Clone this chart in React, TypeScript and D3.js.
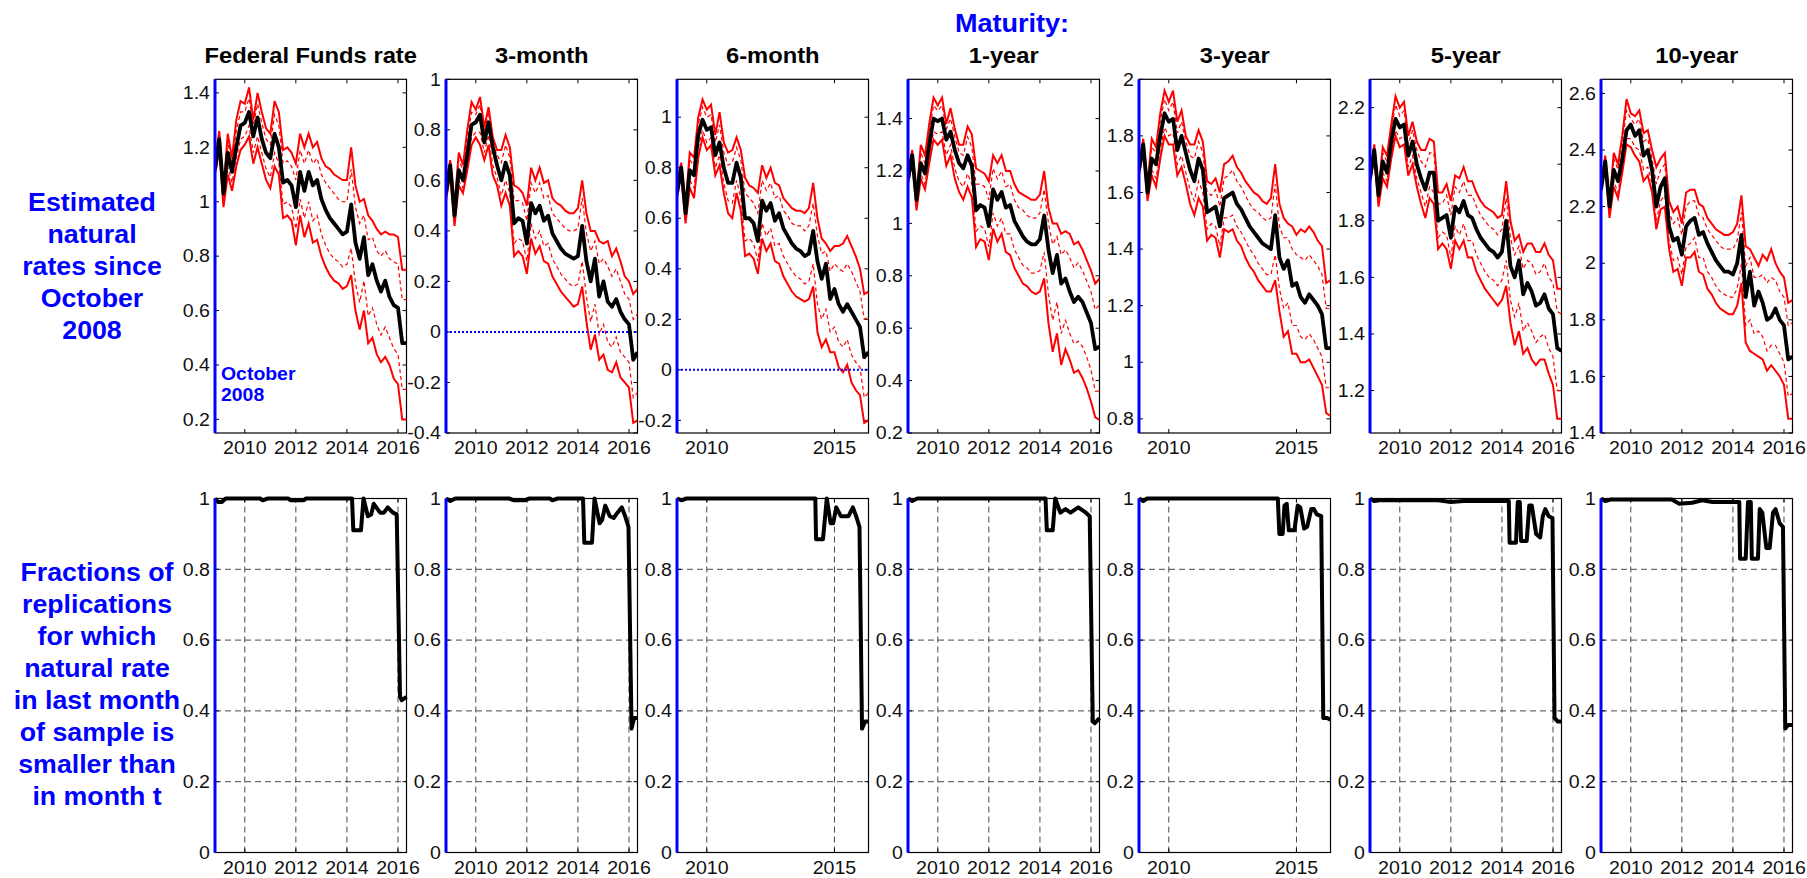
import React from "react";
import * as d3 from "d3";

const W = 1807, H = 878;
const font = "'Liberation Sans', Arial, Helvetica, sans-serif";
const blue = "#0000ff";

// monthly grid, every second month from Oct 2008 to Apr 2016
const months = d3.range(46).map(i => 2008 + 10 / 12 + i / 6);
const xDomain = [2008 + 10 / 12, 2016 + 4 / 12];

const titles = ["Federal Funds rate", "3-month", "6-month", "1-year", "3-year", "5-year", "10-year"];
const yDomains = [[0.15, 1.45], [-0.4, 1], [-0.25, 1.15], [0.2, 1.55], [0.75, 2], [1.05, 2.3], [1.4, 2.65]];
const yTicksTop = [
  [0.2, 0.4, 0.6, 0.8, 1, 1.2, 1.4],
  [-0.4, -0.2, 0, 0.2, 0.4, 0.6, 0.8, 1],
  [-0.2, 0, 0.2, 0.4, 0.6, 0.8, 1],
  [0.2, 0.4, 0.6, 0.8, 1, 1.2, 1.4],
  [0.8, 1, 1.2, 1.4, 1.6, 1.8, 2],
  [1.2, 1.4, 1.6, 1.8, 2, 2.2],
  [1.4, 1.6, 1.8, 2, 2.2, 2.4, 2.6],
];
const yTicksBottom = [0, 0.2, 0.4, 0.6, 0.8, 1];
const xTicksWide = [2010, 2012, 2014, 2016];
const xTicksFive = [2010, 2015];
const xTicks = [xTicksWide, xTicksWide, xTicksFive, xTicksWide, xTicksFive, xTicksWide, xTicksWide];
const zeroLine = [false, true, true, false, false, false, false];

// Federal funds rate
const ffMedian = [1.12,1.23,1.03,1.18,1.11,1.20,1.28,1.29,1.33,1.24,1.31,1.23,1.18,1.16,1.25,1.20,1.07,1.08,1.06,0.98,1.11,1.04,1.11,1.06,1.08,1.01,0.97,0.94,0.92,0.90,0.88,0.89,0.99,0.85,0.79,0.87,0.73,0.77,0.71,0.67,0.71,0.65,0.62,0.61,0.48,0.48];
const ffUpper = [1.15,1.26,1.05,1.25,1.16,1.30,1.37,1.36,1.42,1.30,1.40,1.33,1.27,1.25,1.37,1.33,1.19,1.20,1.18,1.14,1.25,1.20,1.25,1.20,1.22,1.16,1.13,1.12,1.10,1.09,1.08,1.08,1.20,1.06,1.00,1.01,0.95,0.93,0.90,0.88,0.89,0.88,0.88,0.87,0.75,0.75];
const ffLower = [1.10,1.19,0.98,1.10,1.04,1.13,1.19,1.21,1.24,1.14,1.20,1.14,1.08,1.05,1.13,1.10,0.94,0.95,0.93,0.84,0.95,0.87,0.92,0.85,0.86,0.80,0.76,0.73,0.71,0.70,0.68,0.69,0.73,0.60,0.53,0.60,0.48,0.50,0.44,0.41,0.43,0.40,0.35,0.33,0.20,0.20];
const ffUpperIn = [1.14,1.25,1.04,1.22,1.14,1.26,1.33,1.33,1.38,1.28,1.36,1.29,1.23,1.21,1.32,1.28,1.14,1.15,1.13,1.08,1.19,1.14,1.19,1.14,1.16,1.10,1.07,1.05,1.03,1.01,1.00,1.00,1.12,0.98,0.92,0.95,0.86,0.87,0.82,0.80,0.82,0.79,0.78,0.77,0.64,0.64];
const ffLowerIn = [1.11,1.21,1.00,1.13,1.07,1.16,1.23,1.24,1.28,1.18,1.24,1.18,1.12,1.09,1.18,1.14,0.99,1.00,0.98,0.90,1.01,0.94,1.00,0.93,0.95,0.88,0.84,0.81,0.79,0.78,0.76,0.77,0.83,0.70,0.63,0.71,0.58,0.61,0.55,0.51,0.54,0.50,0.46,0.44,0.31,0.31];

// 3-month
const m3Median = [0.55,0.66,0.46,0.64,0.60,0.70,0.82,0.83,0.86,0.75,0.83,0.73,0.66,0.60,0.67,0.62,0.43,0.45,0.44,0.35,0.51,0.47,0.50,0.44,0.46,0.39,0.36,0.33,0.31,0.30,0.29,0.30,0.42,0.28,0.20,0.29,0.14,0.20,0.12,0.10,0.13,0.08,0.05,0.03,-0.11,-0.08];
const m3Upper = [0.60,0.68,0.50,0.71,0.66,0.80,0.91,0.88,0.93,0.81,0.89,0.77,0.72,0.72,0.78,0.73,0.58,0.57,0.55,0.50,0.65,0.60,0.65,0.59,0.60,0.53,0.51,0.50,0.48,0.47,0.47,0.49,0.60,0.47,0.40,0.40,0.36,0.35,0.36,0.30,0.33,0.28,0.22,0.20,0.15,0.17];
const m3Lower = [0.52,0.63,0.42,0.58,0.55,0.64,0.74,0.77,0.74,0.68,0.74,0.62,0.58,0.50,0.55,0.50,0.30,0.32,0.30,0.23,0.37,0.31,0.34,0.28,0.27,0.22,0.19,0.16,0.14,0.12,0.10,0.11,0.18,0.04,-0.07,-0.01,-0.11,-0.09,-0.15,-0.16,-0.12,-0.18,-0.20,-0.22,-0.36,-0.35];
const m3UpperIn = [0.58,0.67,0.48,0.68,0.64,0.76,0.87,0.86,0.90,0.79,0.87,0.75,0.70,0.67,0.74,0.69,0.52,0.52,0.51,0.44,0.59,0.55,0.59,0.53,0.54,0.47,0.45,0.43,0.41,0.40,0.40,0.41,0.53,0.39,0.32,0.36,0.27,0.29,0.26,0.22,0.25,0.20,0.15,0.13,0.05,0.07];
const m3LowerIn = [0.53,0.64,0.44,0.60,0.57,0.66,0.77,0.79,0.79,0.71,0.78,0.66,0.61,0.54,0.60,0.55,0.35,0.37,0.36,0.28,0.43,0.37,0.40,0.34,0.35,0.29,0.26,0.23,0.21,0.19,0.18,0.19,0.28,0.14,0.04,0.11,-0.01,0.03,-0.04,-0.06,-0.02,-0.08,-0.10,-0.12,-0.26,-0.24];

// 6-month
const m6Median = [0.70,0.80,0.62,0.79,0.77,0.93,0.99,0.95,0.96,0.85,0.90,0.80,0.74,0.74,0.82,0.76,0.60,0.60,0.58,0.51,0.67,0.63,0.66,0.59,0.62,0.56,0.53,0.50,0.48,0.47,0.45,0.46,0.55,0.43,0.36,0.42,0.28,0.32,0.26,0.23,0.26,0.23,0.20,0.17,0.05,0.07];
const m6Upper = [0.75,0.82,0.65,0.86,0.84,1.00,1.07,1.03,1.05,0.93,1.02,0.90,0.86,0.87,0.92,0.87,0.76,0.73,0.72,0.70,0.81,0.76,0.80,0.74,0.73,0.68,0.66,0.64,0.63,0.63,0.62,0.64,0.74,0.60,0.52,0.50,0.47,0.49,0.49,0.50,0.53,0.49,0.45,0.40,0.30,0.31];
const m6Lower = [0.68,0.78,0.58,0.72,0.68,0.84,0.92,0.87,0.89,0.77,0.81,0.70,0.62,0.60,0.70,0.63,0.45,0.46,0.44,0.38,0.52,0.47,0.50,0.43,0.42,0.37,0.34,0.31,0.29,0.28,0.27,0.28,0.33,0.15,0.09,0.12,0.07,0.07,0.01,-0.01,0.02,-0.05,-0.08,-0.10,-0.21,-0.20];
const m6UpperIn = [0.73,0.81,0.64,0.83,0.81,0.97,1.04,1.00,1.01,0.90,0.97,0.86,0.81,0.82,0.88,0.83,0.70,0.68,0.66,0.62,0.75,0.71,0.74,0.68,0.69,0.63,0.61,0.58,0.57,0.57,0.55,0.57,0.66,0.53,0.46,0.47,0.39,0.42,0.40,0.39,0.42,0.39,0.35,0.31,0.20,0.21];
const m6LowerIn = [0.69,0.79,0.60,0.75,0.72,0.88,0.95,0.90,0.92,0.80,0.85,0.74,0.67,0.66,0.75,0.68,0.51,0.52,0.50,0.43,0.58,0.53,0.56,0.49,0.50,0.45,0.42,0.39,0.37,0.36,0.34,0.35,0.42,0.26,0.20,0.24,0.15,0.17,0.11,0.09,0.12,0.06,0.03,0.01,-0.11,-0.09];

// 1-year
const y1Median = [1.17,1.26,1.09,1.23,1.19,1.30,1.40,1.39,1.40,1.32,1.35,1.28,1.23,1.21,1.26,1.22,1.05,1.07,1.06,0.99,1.13,1.09,1.12,1.06,1.07,1.01,0.98,0.95,0.93,0.92,0.92,0.94,1.03,0.90,0.81,0.88,0.77,0.79,0.74,0.70,0.72,0.70,0.66,0.62,0.52,0.53];
const y1Upper = [1.20,1.28,1.10,1.30,1.26,1.38,1.48,1.45,1.48,1.38,1.44,1.36,1.30,1.30,1.37,1.34,1.21,1.20,1.19,1.16,1.26,1.23,1.26,1.20,1.20,1.15,1.12,1.11,1.10,1.09,1.09,1.11,1.20,1.06,1.00,1.00,0.96,0.97,0.96,0.92,0.93,0.90,0.86,0.82,0.77,0.79];
const y1Lower = [1.15,1.24,1.05,1.17,1.13,1.23,1.32,1.30,1.32,1.22,1.26,1.17,1.12,1.09,1.14,1.10,0.91,0.94,0.93,0.86,0.98,0.93,0.96,0.89,0.88,0.83,0.80,0.77,0.76,0.74,0.73,0.74,0.79,0.62,0.51,0.58,0.46,0.52,0.48,0.43,0.44,0.41,0.37,0.32,0.26,0.25];
const y1UpperIn = [1.19,1.27,1.10,1.27,1.23,1.35,1.45,1.43,1.45,1.36,1.40,1.33,1.27,1.26,1.33,1.29,1.15,1.15,1.14,1.09,1.21,1.17,1.20,1.14,1.15,1.09,1.06,1.05,1.03,1.02,1.02,1.04,1.13,1.00,0.92,0.95,0.88,0.90,0.87,0.83,0.85,0.82,0.78,0.74,0.67,0.69];
const y1LowerIn = [1.16,1.25,1.07,1.19,1.15,1.26,1.35,1.34,1.35,1.26,1.30,1.21,1.16,1.14,1.19,1.15,0.97,0.99,0.98,0.91,1.04,0.99,1.02,0.96,0.96,0.90,0.87,0.84,0.83,0.81,0.81,0.82,0.89,0.73,0.63,0.70,0.58,0.63,0.58,0.54,0.55,0.53,0.49,0.44,0.36,0.36];

// 3-year
const y3Median = [1.68,1.77,1.60,1.72,1.70,1.80,1.88,1.85,1.86,1.75,1.80,1.74,1.68,1.64,1.72,1.68,1.53,1.54,1.55,1.48,1.58,1.59,1.60,1.56,1.54,1.51,1.48,1.46,1.44,1.42,1.41,1.40,1.52,1.37,1.33,1.36,1.27,1.28,1.23,1.21,1.24,1.22,1.20,1.17,1.05,1.05];
const y3Upper = [1.70,1.79,1.63,1.79,1.76,1.88,1.96,1.92,1.96,1.85,1.89,1.80,1.77,1.77,1.82,1.78,1.64,1.63,1.65,1.60,1.70,1.71,1.73,1.69,1.67,1.64,1.62,1.60,1.59,1.57,1.56,1.58,1.70,1.56,1.51,1.49,1.48,1.45,1.47,1.46,1.48,1.46,1.43,1.41,1.28,1.29];
const y3Lower = [1.66,1.75,1.57,1.66,1.62,1.72,1.80,1.77,1.77,1.66,1.69,1.63,1.56,1.52,1.58,1.55,1.43,1.45,1.44,1.37,1.47,1.46,1.47,1.43,1.41,1.37,1.34,1.32,1.29,1.27,1.25,1.25,1.29,1.18,1.09,1.11,1.03,1.03,1.00,1.00,1.01,0.98,0.95,0.92,0.82,0.81];
const y3UpperIn = [1.69,1.78,1.62,1.76,1.74,1.85,1.93,1.89,1.92,1.81,1.85,1.78,1.73,1.72,1.78,1.74,1.60,1.59,1.61,1.55,1.65,1.66,1.68,1.64,1.62,1.59,1.56,1.54,1.53,1.51,1.50,1.51,1.63,1.48,1.44,1.44,1.40,1.38,1.37,1.36,1.38,1.36,1.34,1.31,1.19,1.19];
const y3LowerIn = [1.67,1.76,1.58,1.68,1.65,1.75,1.83,1.80,1.81,1.70,1.73,1.67,1.61,1.57,1.64,1.60,1.47,1.49,1.48,1.41,1.51,1.51,1.52,1.48,1.46,1.43,1.40,1.38,1.35,1.33,1.31,1.31,1.38,1.26,1.19,1.21,1.13,1.13,1.09,1.08,1.10,1.08,1.05,1.02,0.91,0.91];

// 5-year
const y5Median = [1.95,2.05,1.89,2.01,1.97,2.08,2.16,2.13,2.14,2.03,2.08,2.00,1.95,1.91,1.97,1.97,1.80,1.81,1.82,1.74,1.85,1.83,1.87,1.82,1.81,1.77,1.74,1.72,1.70,1.69,1.67,1.69,1.80,1.64,1.60,1.66,1.54,1.58,1.55,1.50,1.51,1.54,1.49,1.47,1.35,1.34];
const y5Upper = [1.97,2.07,1.91,2.06,2.03,2.14,2.24,2.20,2.22,2.10,2.15,2.08,2.05,2.05,2.09,2.08,1.90,1.90,1.93,1.87,1.96,1.95,1.99,1.94,1.94,1.90,1.87,1.85,1.84,1.83,1.81,1.82,1.94,1.80,1.73,1.75,1.69,1.72,1.72,1.69,1.69,1.72,1.68,1.66,1.56,1.56];
const y5Lower = [1.93,2.03,1.85,1.95,1.92,2.02,2.10,2.06,2.07,1.96,2.00,1.92,1.86,1.81,1.88,1.86,1.70,1.72,1.70,1.63,1.73,1.70,1.73,1.67,1.67,1.62,1.59,1.56,1.54,1.52,1.50,1.52,1.57,1.44,1.36,1.41,1.33,1.35,1.31,1.29,1.31,1.31,1.26,1.22,1.10,1.10];
const y5UpperIn = [1.96,2.06,1.90,2.04,2.01,2.12,2.21,2.17,2.19,2.07,2.12,2.05,2.01,1.99,2.04,2.04,1.86,1.86,1.89,1.82,1.92,1.90,1.94,1.89,1.89,1.85,1.82,1.80,1.78,1.77,1.75,1.77,1.88,1.74,1.68,1.71,1.63,1.66,1.65,1.61,1.62,1.65,1.60,1.58,1.48,1.47];
const y5LowerIn = [1.94,2.04,1.87,1.97,1.94,2.04,2.12,2.09,2.10,1.99,2.03,1.95,1.90,1.85,1.92,1.90,1.74,1.76,1.75,1.67,1.78,1.75,1.79,1.73,1.73,1.68,1.65,1.62,1.60,1.59,1.57,1.59,1.66,1.52,1.46,1.51,1.41,1.44,1.41,1.37,1.39,1.40,1.35,1.32,1.20,1.20];

// 10-year
const y10Median = [2.26,2.36,2.20,2.33,2.29,2.37,2.47,2.49,2.45,2.47,2.38,2.40,2.33,2.20,2.27,2.30,2.13,2.08,2.09,2.03,2.13,2.15,2.16,2.10,2.11,2.07,2.04,2.01,1.99,1.97,1.97,1.96,2.00,2.10,1.88,1.97,1.85,1.90,1.86,1.80,1.81,1.84,1.80,1.78,1.66,1.67];
const y10Upper = [2.28,2.38,2.21,2.39,2.35,2.45,2.58,2.53,2.52,2.54,2.46,2.47,2.40,2.34,2.37,2.39,2.22,2.18,2.20,2.14,2.25,2.26,2.26,2.21,2.20,2.16,2.14,2.12,2.11,2.10,2.10,2.11,2.14,2.24,2.06,2.05,2.02,1.99,2.03,2.01,2.05,2.00,1.97,1.95,1.86,1.87];
const y10Lower = [2.25,2.35,2.16,2.27,2.23,2.32,2.42,2.41,2.38,2.36,2.29,2.31,2.25,2.12,2.19,2.20,2.05,1.97,1.98,1.92,2.02,2.02,2.04,1.97,1.96,1.91,1.89,1.86,1.84,1.83,1.82,1.82,1.85,1.93,1.72,1.69,1.68,1.67,1.66,1.62,1.64,1.62,1.60,1.57,1.45,1.45];
const y10UpperIn = [2.27,2.37,2.21,2.37,2.33,2.42,2.54,2.51,2.49,2.51,2.43,2.44,2.37,2.28,2.33,2.35,2.18,2.14,2.16,2.10,2.20,2.22,2.22,2.17,2.16,2.12,2.10,2.08,2.06,2.05,2.05,2.05,2.08,2.18,1.99,2.02,1.95,1.95,1.96,1.93,1.95,1.94,1.90,1.88,1.78,1.79];
const y10LowerIn = [2.25,2.35,2.18,2.29,2.25,2.34,2.44,2.44,2.41,2.40,2.33,2.34,2.28,2.15,2.22,2.24,2.08,2.01,2.02,1.96,2.06,2.07,2.09,2.02,2.02,1.97,1.95,1.92,1.90,1.89,1.88,1.88,1.91,2.00,1.78,1.80,1.75,1.76,1.74,1.69,1.71,1.71,1.68,1.65,1.53,1.54];

// fraction of replications, [date, fraction]
const ffFrac = [[2008.833,1],[2008.95,0.99],[2009.1,0.99],[2009.25,1],[2010.6,1],[2010.7,0.995],[2010.9,1],[2011.7,1],[2011.8,0.995],[2012.3,0.995],[2012.4,1],[2014.2,1],[2014.25,0.91],[2014.55,0.91],[2014.65,1],[2014.82,0.95],[2014.95,0.955],[2015.05,0.985],[2015.3,0.96],[2015.45,0.96],[2015.6,0.975],[2015.8,0.96],[2015.95,0.955],[2016.08,0.44],[2016.15,0.43],[2016.333,0.44]];
const m3Frac = [[2008.833,1],[2009.0,0.993],[2009.2,1],[2011.3,1],[2011.5,0.995],[2011.9,0.995],[2012.1,1],[2012.9,1],[2013.0,0.995],[2013.2,1],[2014.2,1],[2014.25,0.875],[2014.55,0.875],[2014.65,1],[2014.85,0.93],[2014.95,0.94],[2015.07,0.98],[2015.25,0.95],[2015.4,0.945],[2015.55,0.96],[2015.72,0.975],[2015.85,0.95],[2015.98,0.92],[2016.1,0.35],[2016.2,0.38],[2016.333,0.38]];
const m6Frac = [[2008.833,1],[2009.0,0.995],[2009.2,1],[2014.25,1],[2014.28,0.885],[2014.55,0.885],[2014.7,1],[2014.85,0.93],[2014.95,0.93],[2015.07,0.975],[2015.25,0.95],[2015.4,0.95],[2015.55,0.95],[2015.72,0.975],[2015.85,0.95],[2015.98,0.92],[2016.08,0.35],[2016.2,0.37],[2016.333,0.37]];
const y1Frac = [[2008.833,1],[2009.0,0.993],[2009.2,1],[2014.22,1],[2014.27,0.91],[2014.5,0.91],[2014.6,1],[2014.8,0.96],[2015.0,0.97],[2015.2,0.96],[2015.5,0.975],[2015.8,0.96],[2015.95,0.95],[2016.07,0.37],[2016.15,0.365],[2016.333,0.38]];
const y3Frac = [[2008.833,1],[2009.0,0.993],[2009.15,1],[2014.27,1],[2014.33,0.9],[2014.46,0.9],[2014.53,0.98],[2014.62,0.985],[2014.7,0.91],[2014.92,0.91],[2015.05,0.98],[2015.15,0.975],[2015.3,0.915],[2015.42,0.92],[2015.58,0.97],[2015.68,0.97],[2015.8,0.955],[2015.97,0.95],[2016.05,0.38],[2016.2,0.38],[2016.333,0.375]];
const y5Frac = [[2008.833,1],[2009.0,0.993],[2009.2,0.995],[2011.5,0.995],[2012.0,0.99],[2012.5,0.993],[2014.27,0.993],[2014.3,0.875],[2014.55,0.875],[2014.62,0.99],[2014.7,0.99],[2014.75,0.88],[2014.97,0.88],[2015.07,0.98],[2015.17,0.98],[2015.34,0.9],[2015.5,0.89],[2015.6,0.95],[2015.7,0.97],[2015.83,0.95],[2015.98,0.945],[2016.06,0.38],[2016.19,0.37],[2016.333,0.37]];
const y10Frac = [[2008.833,1],[2009.0,0.993],[2009.2,0.997],[2011.6,0.997],[2011.9,0.985],[2012.4,0.988],[2012.8,0.995],[2013.2,0.99],[2014.25,0.99],[2014.28,0.83],[2014.5,0.83],[2014.59,0.99],[2014.7,0.99],[2014.74,0.83],[2014.98,0.83],[2015.05,0.97],[2015.15,0.96],[2015.31,0.86],[2015.44,0.86],[2015.57,0.96],[2015.67,0.97],[2015.83,0.93],[2015.96,0.92],[2016.05,0.35],[2016.16,0.36],[2016.333,0.36]];

const medians = [ffMedian, m3Median, m6Median, y1Median, y3Median, y5Median, y10Median];
const uppers = [ffUpper, m3Upper, m6Upper, y1Upper, y3Upper, y5Upper, y10Upper];
const lowers = [ffLower, m3Lower, m6Lower, y1Lower, y3Lower, y5Lower, y10Lower];
const uppersIn = [ffUpperIn, m3UpperIn, m6UpperIn, y1UpperIn, y3UpperIn, y5UpperIn, y10UpperIn];
const lowersIn = [ffLowerIn, m3LowerIn, m6LowerIn, y1LowerIn, y3LowerIn, y5LowerIn, y10LowerIn];
const fracs = [ffFrac, m3Frac, m6Frac, y1Frac, y3Frac, y5Frac, y10Frac];

const rowLabelTop = ["Estimated", "natural", "rates since", "October", "2008"];
const rowLabelBottom = ["Fractions of", "replications", "for which", "natural rate", "in last month", "of sample is", "smaller than", "in month t"];

// layout
const panelLeft = (k: number) => 215 + k * 231;
const panelW = 191.5;
const rows = [{ top: 79.3, bottom: 433 }, { top: 498.5, bottom: 852.5 }];
const fmt = (v: number) => String(+v.toFixed(2));

// text is a little wider than tall in the figure
function SText({ x, y, sx = 1.1, children, ...rest }: any) {
  return (
    <text transform={`translate(${x},${y}) scale(${sx},1)`} {...rest}>{children}</text>
  );
}

function Frame({ x, y, xt, yt, grid }: any) {
  const [x0, x1] = x.range();
  const [yb, yt0] = y.range();
  const tl = 4;
  return (
    <g>
      {grid && (
        <g stroke="#333" strokeWidth={0.9} strokeDasharray="6,4">
          {xt.map((t: number) => <line key={"gx" + t} x1={x(t)} x2={x(t)} y1={yb} y2={yt0} />)}
          {yt.filter((t: number) => t > 0).map((t: number) => <line key={"gy" + t} x1={x0} x2={x1} y1={y(t)} y2={y(t)} />)}
        </g>
      )}
      <rect x={x0} y={yt0} width={x1 - x0} height={yb - yt0} fill="none" stroke="#000" strokeWidth={1.2} />
      {xt.map((t: number) => (
        <g key={"x" + t}>
          <line x1={x(t)} x2={x(t)} y1={yb} y2={yb - tl} stroke="#000" />
          <line x1={x(t)} x2={x(t)} y1={yt0} y2={yt0 + tl} stroke="#000" />
          <SText x={x(t)} y={yb + 21} sx={1.12} textAnchor="middle" fontSize={17.5} fill="#111">{t}</SText>
        </g>
      ))}
      {yt.map((t: number) => (
        <g key={"y" + t}>
          <line x1={x0} x2={x0 + tl} y1={y(t)} y2={y(t)} stroke="#000" />
          <line x1={x1} x2={x1 - tl} y1={y(t)} y2={y(t)} stroke="#000" />
          <SText x={x0 - 5} y={y(t) + 6.2} sx={1.12} textAnchor="end" fontSize={17.5} fill="#111">{fmt(t)}</SText>
        </g>
      ))}
    </g>
  );
}

function TopPanel({ k }: { k: number }) {
  const x0 = panelLeft(k);
  const { top, bottom } = rows[0];
  const x = d3.scaleLinear().domain(xDomain).range([x0, x0 + panelW]);
  const y = d3.scaleLinear().domain(yDomains[k]).range([bottom, top]);
  const line = d3.line<number>().x((_, i) => x(months[i])).y(d => y(d));
  const clip = "clipTop" + k;
  return (
    <g>
      <clipPath id={clip}><rect x={x0} y={top} width={panelW} height={bottom - top} /></clipPath>
      <SText x={x0 + panelW / 2} y={63} sx={1.08} textAnchor="middle" fontSize={22} fontWeight="bold" fill="#000">{titles[k]}</SText>
      <Frame x={x} y={y} xt={xTicks[k]} yt={yTicksTop[k]} grid={false} />
      <g clipPath={`url(#${clip})`} fill="none">
        <path d={line(uppersIn[k]) || ""} stroke="#ff0000" strokeWidth={1.2} strokeDasharray="4,3" />
        <path d={line(lowersIn[k]) || ""} stroke="#ff0000" strokeWidth={1.2} strokeDasharray="4,3" />
        <path d={line(uppers[k]) || ""} stroke="#ff0000" strokeWidth={2} />
        <path d={line(lowers[k]) || ""} stroke="#ff0000" strokeWidth={2} />
        {zeroLine[k] && (
          <line x1={x0} x2={x0 + panelW} y1={y(0)} y2={y(0)} stroke={blue} strokeWidth={2} strokeDasharray="2,2" />
        )}
        <path d={line(medians[k]) || ""} stroke="#000" strokeWidth={3.8} strokeLinejoin="round" />
      </g>
      <line x1={x(xDomain[0])} x2={x(xDomain[0])} y1={top} y2={bottom} stroke={blue} strokeWidth={3} />
      {k === 0 && (
        <g fontSize={18} fontWeight="bold" fill={blue}>
          <SText x={x0 + 6} y={379.5} sx={1.08}>October</SText>
          <SText x={x0 + 6} y={401} sx={1.08}>2008</SText>
        </g>
      )}
    </g>
  );
}

function BottomPanel({ k }: { k: number }) {
  const x0 = panelLeft(k);
  const { top, bottom } = rows[1];
  const x = d3.scaleLinear().domain(xDomain).range([x0, x0 + panelW]);
  const y = d3.scaleLinear().domain([0, 1]).range([bottom, top]);
  const line = d3.line<number[]>().x(d => x(d[0])).y(d => y(d[1]));
  return (
    <g>
      <Frame x={x} y={y} xt={xTicks[k]} yt={yTicksBottom} grid={true} />
      <path d={line(fracs[k]) || ""} fill="none" stroke="#000" strokeWidth={4} strokeLinejoin="round" />
      <line x1={x(xDomain[0])} x2={x(xDomain[0])} y1={top} y2={bottom} stroke={blue} strokeWidth={3} />
    </g>
  );
}

export default function App() {
  return (
    <div style={{ width: W, height: H }}>
      <style>{"body{margin:0;background:#fff}"}</style>
      <svg width={W} height={H} style={{ display: "block", background: "#fff" }} fontFamily={font}>
        <SText x={1012} y={32} sx={1.04} textAnchor="middle" fontSize={26} fontWeight="bold" fill={blue}>Maturity:</SText>
        {titles.map((_, k) => <TopPanel key={"t" + k} k={k} />)}
        {titles.map((_, k) => <BottomPanel key={"b" + k} k={k} />)}
        <g textAnchor="middle" fontSize={25} fontWeight="bold" fill={blue}>
          {rowLabelTop.map((s, i) => <SText key={s} x={92} y={211 + i * 32} sx={1.07}>{s}</SText>)}
          {rowLabelBottom.map((s, i) => <SText key={s} x={97} y={581 + i * 32} sx={1.07}>{s}</SText>)}
        </g>
      </svg>
    </div>
  );
}
